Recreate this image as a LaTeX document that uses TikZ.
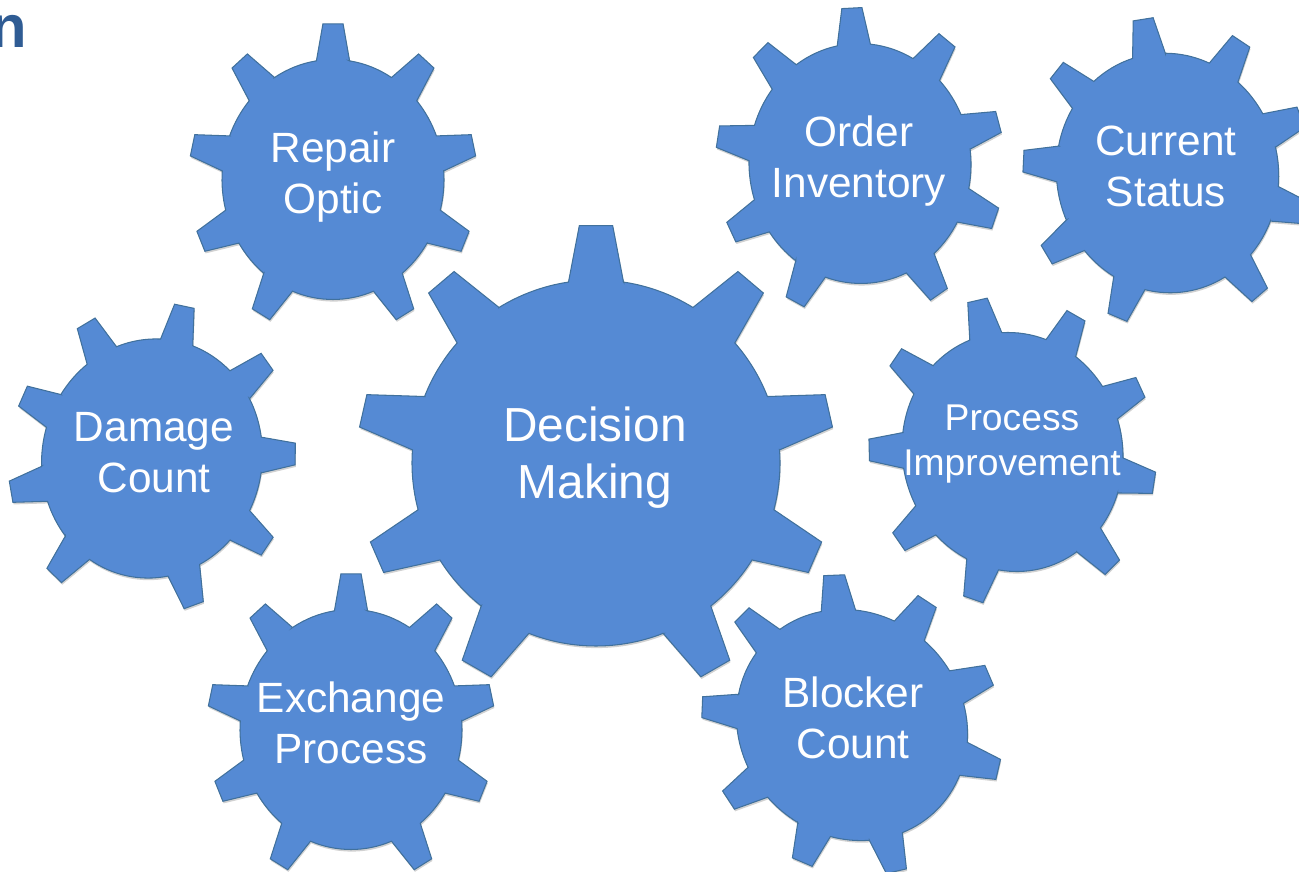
\documentclass[tikz,border=0pt]{standalone}
\usepackage{fontspec}
\setmainfont{Liberation Sans}
\usepackage{xcolor}
\usetikzlibrary{shadows}
\definecolor{gearblue}{HTML}{558AD4}
\definecolor{gearline}{HTML}{41719C}
\definecolor{titleblue}{HTML}{2F5C94}
\tikzset{
	geartooth/.style={fill=gearblue, draw=gearline, line width=0.6pt, line join=miter,
		general shadow={fill=black, opacity=0.18, shadow xshift=0.4pt, shadow yshift=-1.2pt}},
	bigtext/.style={text=white, align=center, inner sep=0pt, font=\fontsize{27.2}{32.4}\selectfont},
	midtext/.style={text=white, align=center, inner sep=0pt, font=\fontsize{24.1}{29}\selectfont},
	smalltext/.style={text=white, align=center, inner sep=0pt, font=\fontsize{21.2}{25.5}\selectfont},
}
% x, y, x radius, y radius, rotation
\newcommand{\gearshape}[5]{
	\begin{scope}[shift={(#1,#2)}, rotate=#5, xscale=#3, yscale=#4]
		\draw[geartooth] (81.4:1)
			foreach \a/\b in {90/130.4, 130.4/167.3, 167.3/203.4, 203.4/240, 240/300, 300/336.6, 336.6/372.7, 372.7/409.6, 409.6/450} {
				-- ({\a-8.6}:1) -- ({\a-4}:1.3) -- ({\a+4}:1.3) -- ({\a+8.6}:1)
				arc[start angle=\a+8.6, end angle=\b-8.6, radius=1]
			} -- cycle;
	\end{scope}
}
\begin{document}
\begin{tikzpicture}[scale=0.2]
	\useasboundingbox (0,0) rectangle (129.9,-87.2);
	\clip (0,0) rectangle (129.9,-87.2);
	%
	\gearshape{59.6}{-46.3}{18.4}{18.3}{0}
	\gearshape{33.3}{-17.95}{11.1}{12}{0}
	\gearshape{86}{-16.35}{11.1}{12}{3}
	\gearshape{116.75}{-17.3}{11.1}{12}{9}
	\gearshape{15.2}{-45.85}{11}{12}{-12}
	\gearshape{101.25}{-45.2}{11}{12}{13}
	\gearshape{35.1}{-72.95}{11.1}{12}{0}
	\gearshape{85.2}{-72.5}{11.1}{12}{45}
	%
	\node[font=\fontsize{34}{40}\selectfont\bfseries, text=titleblue, inner sep=0pt, anchor=base east] (title) at (2.7,-4.76) {n};
	\node[bigtext] (decision) at (59.5,-45.8) {Decision\\Making};
	\node[midtext] (repair) at (33.3,-17.7) {Repair\\Optic};
	\node[midtext] (order) at (85.9,-16.15) {Order\\Inventory};
	\node[midtext] (status) at (116.6,-16.65) {Current\\Status};
	\node[midtext] (damage) at (15.4,-45.3) {Damage\\Count};
	\node[smalltext] (improve) at (101.2,-44.4) {Process\\Improvement};
	\node[midtext] (exchange) at (35.1,-72.3) {Exchange\\Process};
	\node[midtext] (blocker) at (85.3,-71.8) {Blocker\\Count};
\end{tikzpicture}
\end{document}
